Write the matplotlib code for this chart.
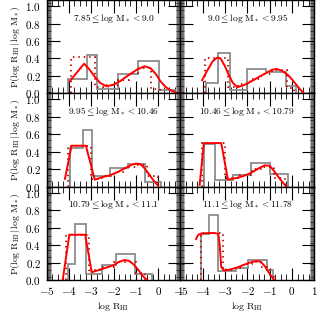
import numpy as np
import matplotlib
matplotlib.use("Agg")
import matplotlib.pyplot as plt
from matplotlib.ticker import MultipleLocator, FuncFormatter

plt.rcParams['mathtext.fontset'] = 'cm'
plt.rcParams['font.family'] = 'serif'
plt.rcParams['font.serif'] = ['DejaVu Serif']

# panel titles (stellar mass bins)
titles = [r'$7.85\leq\log\,{\rm M}_*<9.0$', r'$9.0\leq\log\,{\rm M}_*<9.95$',
          r'$9.95\leq\log\,{\rm M}_*<10.46$', r'$10.46\leq\log\,{\rm M}_*<10.79$',
          r'$10.79\leq\log\,{\rm M}_*<11.1$', r'$11.1\leq\log\,{\rm M}_*<11.78$']

# grey histograms (observed)
gray_edges = [
    [-4.03, -3.21, -2.76, -1.82, -0.90, 0.04, 0.74],
    [-3.85, -3.32, -2.79, -2.0, -1.15, -0.26, 0.19],
    [-3.95, -3.36, -2.98, -2.17, -1.37, -0.6, 0.15],
    [-3.95, -3.44, -2.64, -1.82, -0.99, -0.17],
    [-4.03, -3.71, -3.25, -2.5, -1.9, -1.05, -0.26],
    [-4.1, -3.72, -3.3, -2.5, -1.97, -1.1, -0.85],
]
gray_vals = [
    [0.16, 0.44, 0.05, 0.22, 0.37, 0.04],
    [0.12, 0.46, 0.04, 0.28, 0.25, 0.08],
    [0.44, 0.65, 0.12, 0.21, 0.26, 0.05],
    [0.49, 0.08, 0.14, 0.27, 0.15],
    [0.19, 0.64, 0.07, 0.17, 0.30, 0.07],
    [0.53, 0.75, 0.10, 0.14, 0.23, 0.12],
]

# red dotted histograms (model)
dot_edges = [
    [-3.91, -2.84, -2.3, -1.8, -1.3, -0.85, -0.3, 0.1],
    [-3.9, -2.87, -2.4, -1.9, -1.4, -0.9, -0.2, 0.1],
    [-4.06, -3.03, -2.5, -2.0, -1.5, -1.0, -0.5, 0.0],
    [-4.05, -3.0, -2.4, -1.8, -1.3, -0.8, -0.3],
    [-4.12, -3.08, -2.6, -2.0, -1.5, -1.0, -0.6],
    [-4.1, -3.1, -2.6, -2.2, -1.8, -1.4, -1.0, -0.8],
]
dot_vals = [
    [0.42, 0.07, 0.10, 0.15, 0.23, 0.29, 0.05],
    [0.40, 0.07, 0.11, 0.16, 0.22, 0.27, 0.06],
    [0.47, 0.09, 0.12, 0.17, 0.23, 0.25, 0.12],
    [0.50, 0.10, 0.14, 0.20, 0.23, 0.10],
    [0.52, 0.11, 0.15, 0.21, 0.21, 0.08],
    [0.54, 0.11, 0.14, 0.18, 0.21, 0.15, 0.04],
]

# red solid curves
curve_x = [
    [-3.96, -3.64, -3.32, -3.1, -2.84, -2.6, -2.31, -2.0, -1.7, -1.49, -1.2, -0.9, -0.6, -0.35, -0.1, 0.1, 0.35, 0.6, 0.8],
    [-4.03, -3.8, -3.55, -3.35, -3.2, -3.0, -2.87, -2.65, -2.45, -2.2, -1.95, -1.67, -1.4, -1.1, -0.9, -0.7, -0.45, -0.18, 0.0, 0.19, 0.35, 0.5],
    [-4.18, -3.88, -3.24, -2.84, -2.5, -2.17, -1.8, -1.5, -1.2, -1.0, -0.8, -0.6, -0.4, -0.2, 0.0],
    [-4.14, -3.95, -3.17, -2.87, -2.5, -2.2, -1.82, -1.5, -1.22, -1.0, -0.8, -0.63, -0.45, -0.26],
    [-4.28, -3.98, -3.27, -2.98, -2.6, -2.3, -2.0, -1.75, -1.5, -1.3, -1.1, -0.9, -0.7, -0.5],
    [-4.3, -4.2, -4.05, -3.5, -3.3, -3.24, -3.17, -3.05, -2.8, -2.5, -2.2, -1.9, -1.6, -1.4, -1.22, -1.0, -0.78],
]
curve_y = [
    [0.14, 0.24, 0.34, 0.28, 0.19, 0.12, 0.08, 0.10, 0.14, 0.18, 0.23, 0.28, 0.31, 0.29, 0.22, 0.14, 0.07, 0.03, 0.01],
    [0.15, 0.26, 0.37, 0.41, 0.40, 0.31, 0.23, 0.12, 0.07, 0.09, 0.12, 0.16, 0.20, 0.24, 0.27, 0.28, 0.26, 0.21, 0.16, 0.10, 0.05, 0.01],
    [0.09, 0.47, 0.47, 0.08, 0.11, 0.13, 0.17, 0.21, 0.25, 0.265, 0.26, 0.21, 0.14, 0.07, 0.01],
    [0.02, 0.50, 0.50, 0.08, 0.10, 0.12, 0.16, 0.21, 0.245, 0.24, 0.18, 0.12, 0.06, 0.0],
    [0.0, 0.52, 0.52, 0.09, 0.12, 0.145, 0.17, 0.21, 0.23, 0.22, 0.18, 0.12, 0.05, 0.0],
    [0.47, 0.52, 0.535, 0.54, 0.53, 0.40, 0.15, 0.11, 0.12, 0.14, 0.17, 0.20, 0.22, 0.21, 0.16, 0.07, 0.0],
]

fig, axes = plt.subplots(3, 2, sharex=True, sharey=True, figsize=(3.26, 3.14), dpi=100)
fig.subplots_adjust(left=0.143, right=0.964, top=1.0, bottom=0.108, hspace=0, wspace=0)

for i, ax in enumerate(axes.flat):
    ax.stairs(gray_vals[i], gray_edges[i], baseline=0, color='#8c8c8c', lw=1.3, zorder=2)
    ax.stairs(dot_vals[i], dot_edges[i], baseline=0, color='#c00000', lw=1.3,
              ls=(0, (0.8, 2.2)), zorder=3)
    ax.plot(curve_x[i], curve_y[i], color='red', lw=1.4, zorder=4)
    ax.text(0.5, 0.805, titles[i], transform=ax.transAxes, ha='center', va='center', fontsize=6.8)

    ax.set_xlim(-5, 1)
    ax.set_ylim(0, 1.07)
    ax.xaxis.set_major_locator(MultipleLocator(1))
    ax.xaxis.set_minor_locator(MultipleLocator(0.25))
    ax.yaxis.set_major_locator(MultipleLocator(0.2))
    ax.yaxis.set_minor_locator(MultipleLocator(0.01))
    ax.xaxis.set_major_formatter(FuncFormatter(lambda v, p: r'$%d$' % round(v)))
    ax.yaxis.set_major_formatter(FuncFormatter(lambda v, p: r'$%.1f$' % v))
    ax.tick_params(which='both', direction='in', top=True, right=True, labelsize=8)
    ax.tick_params(which='major', axis='x', length=9, width=0.8, pad=3.5)
    ax.tick_params(which='major', axis='y', length=9, width=0.8, pad=4)
    ax.tick_params(which='minor', axis='x', length=4, width=0.6)
    ax.tick_params(which='minor', axis='y', length=3, width=0.4)
    for s in ax.spines.values():
        s.set_linewidth(1.0)

for ax in axes[:, 0]:
    ax.set_ylabel(r'${\rm P}(\log\,{\rm R}_{\rm HI}\,|\,\log\,{\rm M}_*)$', fontsize=7, labelpad=2)
for ax in axes[-1, :]:
    ax.set_xlabel(r'$\log\,{\rm R}_{\rm HI}$', fontsize=7, labelpad=2)

plt.savefig('out.png', dpi=100)
